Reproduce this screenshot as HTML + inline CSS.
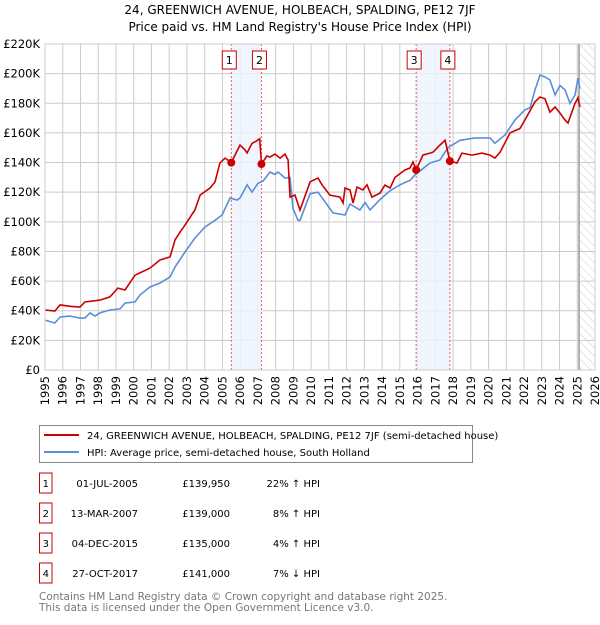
<!DOCTYPE html>
<html><head><meta charset="utf-8"><style>
body{margin:0;background:#fff;font-family:"Liberation Sans","DejaVu Sans",sans-serif;}
svg text{font-family:"DejaVu Sans","Liberation Sans",sans-serif;}
</style></head><body>
<svg id="chart" width="600" height="620" xmlns="http://www.w3.org/2000/svg">
<defs><pattern id="hatch" width="6" height="6" patternUnits="userSpaceOnUse" patternTransform="rotate(-45)"><line x1="0" y1="0" x2="0" y2="6" stroke="#ccc" stroke-width="1"/></pattern></defs>
<text x="300" y="14" text-anchor="middle" font-size="12">24, GREENWICH AVENUE, HOLBEACH, SPALDING, PE12 7JF</text>
<text x="300" y="31" text-anchor="middle" font-size="12">Price paid vs. HM Land Registry's House Price Index (HPI)</text>
<g id="grid"></g><g id="bands"></g><g id="lines"></g><g id="marks"></g><g id="axes"></g>
<g>
<rect x="39.5" y="425.5" width="433" height="37" fill="#fff" stroke="#888"/>
<line x1="44" y1="435" x2="79" y2="435" stroke="#cc0000" stroke-width="2"/>
<text x="87" y="439" font-size="10">24, GREENWICH AVENUE, HOLBEACH, SPALDING, PE12 7JF (semi-detached house)</text>
<line x1="44" y1="452" x2="79" y2="452" stroke="#5b8ed6" stroke-width="2"/>
<text x="87" y="456" font-size="10">HPI: Average price, semi-detached house, South Holland</text>
</g>
<g id="table"></g>
<text x="39" y="600" font-size="10.5" fill="#777">Contains HM Land Registry data © Crown copyright and database right 2025.</text>
<text x="39" y="611" font-size="10.5" fill="#777">This data is licensed under the Open Government Licence v3.0.</text>
</svg>
<script>
const hpiYears=[1995.0,1995.56,1995.85,1996.41,1996.97,1997.25,1997.54,1997.82,1998.1,1998.66,1999.23,1999.51,2000.07,2000.35,2000.92,2001.48,2002.05,2002.33,2002.89,2003.45,2004.02,2004.58,2004.98,2005.43,2005.82,2005.99,2006.39,2006.67,2007.0,2007.29,2007.68,2007.96,2008.13,2008.53,2008.81,2008.98,2009.26,2009.37,2009.94,2010.39,2011.23,2011.91,2012.19,2012.75,2013.04,2013.32,2013.88,2014.45,2015.01,2015.57,2015.85,2016.7,2017.26,2017.71,2018.39,2019.24,2020.08,2020.36,2020.93,2021.49,2022.05,2022.34,2022.62,2022.9,2023.18,2023.46,2023.75,2024.03,2024.31,2024.59,2024.87,2025.04,2025.15];
const hpiValues=[33.7,31.7,35.8,36.4,35,35,38.5,36.4,38.5,40.5,41.2,45.2,45.9,50.6,56,58.7,62.8,69.5,79.6,89,96.5,101,104.6,116,114.7,116,125,120,126,127.5,133.6,132,133.6,129.6,130,109,101,101,119,120,106,104.6,112,108,113,108,115,121,125,128,131.6,139.7,141.7,150,155,156.6,156.6,153,158.6,168.7,175.5,177,189,199,197.7,195.7,185.6,192,189,180,185.6,197,190];
const priceYears=[1995.0,1995.56,1995.85,1996.41,1996.97,1997.25,1998.1,1998.66,1999.11,1999.51,2000.07,2000.35,2000.92,2001.48,2002.05,2002.33,2002.61,2002.89,2003.45,2003.74,2004.3,2004.58,2004.86,2005.15,2005.5,2005.99,2006.27,2006.39,2006.67,2006.84,2007.1,2007.2,2007.5,2007.68,2007.96,2008.25,2008.53,2008.7,2008.81,2009.09,2009.37,2009.94,2010.39,2010.61,2011.06,2011.63,2011.8,2011.91,2012.19,2012.36,2012.59,2012.92,2013.15,2013.43,2013.88,2014.16,2014.45,2014.73,2015.29,2015.57,2015.74,2015.92,2016.3,2016.7,2016.87,2017.26,2017.55,2017.82,2018.22,2018.5,2019.07,2019.63,2020.08,2020.36,2020.65,2021.21,2021.77,2022.05,2022.62,2022.9,2023.18,2023.46,2023.75,2024.03,2024.31,2024.48,2024.87,2025.04,2025.15];
const priceValues=[40.5,39.8,43.9,43,42.5,45.9,47.2,49.3,55.3,54,64,65.5,68.8,74.2,76.3,87.7,93,97.8,108,118,122.8,126.9,139.7,143,140,151.8,148.5,146.5,153,154,156,139,144.4,143.7,145.7,143,145.7,141.7,116.7,118,108,127,129.6,125,118,116.7,112.7,122.8,121.5,112.7,123.5,121.5,125,116.7,119.4,124.8,122.8,130,135,136.3,140.4,135,145,146.4,147,151.8,155,141,139.7,146.4,145,146.4,145,143,147,160,163,168.7,181,184.2,183,174,177.5,173.4,168.7,166.7,180,183.6,177.5];
const saleLabels=["1","2","3","4"];
const saleYears=[2005.5,2007.2,2015.92,2017.82];
const saleValues=[139.95,139,135,141];
const saleDates=["01-JUL-2005","13-MAR-2007","04-DEC-2015","27-OCT-2017"];
const salePrices=["£139,950","£139,000","£135,000","£141,000"];
const saleHpi=["22% ↑ HPI","8% ↑ HPI","4% ↑ HPI","7% ↓ HPI"];
const yTicks=[0,20,40,60,80,100,120,140,160,180,200,220];
const xTicks=[1995,1996,1997,1998,1999,2000,2001,2002,2003,2004,2005,2006,2007,2008,2009,2010,2011,2012,2013,2014,2015,2016,2017,2018,2019,2020,2021,2022,2023,2024,2025,2026];
const NS="http://www.w3.org/2000/svg";
const X0=45,X1=595,Y0=370,Y1=44;
const xs=y=>X0+(y-1995)/31*(X1-X0);
const ys=v=>Y0-v/220*(Y0-Y1);
function mk(tag,at,parent){const e=document.createElementNS(NS,tag);for(const k in at)e.setAttribute(k,at[k]);document.getElementById(parent).appendChild(e);return e;}
let h=mk('rect',{x:xs(2025.1),y:Y1,width:X1-xs(2025.1),height:Y0-Y1,fill:'url(#hatch)'},'grid');


yTicks.forEach(t=>{let l=mk('line',{x1:X0,x2:X1,y1:ys(t),y2:ys(t),stroke:'#ccc'},'grid');


let tx=mk('text',{x:40,y:ys(t)+4,'text-anchor':'end','font-size':'11.5'},'axes');tx.textContent='£'+(t===0?'0':t+'K');

});
xTicks.forEach(t=>{let l=mk('line',{x1:xs(t),x2:xs(t),y1:Y1,y2:Y0,stroke:'#ccc'},'grid');


let tx=mk('text',{x:0,y:0,'font-size':'11.5','text-anchor':'end',transform:`translate(${xs(t)+4},${Y0+6}) rotate(-90)`},'axes');tx.textContent=t;

});
let vl=mk('line',{x1:xs(2025.1),x2:xs(2025.1),y1:Y1,y2:Y0,stroke:'#999','stroke-width':1.5},'grid');


[[0,1],[2,3]].forEach(p=>{let b=mk('rect',{x:xs(saleYears[p[0]]),y:Y1,width:xs(saleYears[p[1]])-xs(saleYears[p[0]]),height:Y0-Y1,fill:'#eef3fc',opacity:0.8},'bands');

});
saleYears.forEach((y,i)=>{let l=mk('line',{x1:xs(y),x2:xs(y),y1:Y1,y2:Y0,stroke:'#e06060','stroke-dasharray':'2,2'},'bands');


let r=mk('rect',{x:xs(y)-9,y:51,width:14,height:18,fill:'#fff',stroke:'#cc0000'},'marks');


let t=mk('text',{x:xs(y)-2,y:64,'text-anchor':'middle','font-size':'11'},'marks');t.textContent=saleLabels[i];


let c=mk('circle',{cx:xs(y),cy:ys(saleValues[i]),r:4,fill:'#cc0000'},'marks');

});
function path(xa,va,col,name){let d=xa.map((x,i)=>(i?'L':'M')+xs(x).toFixed(1)+','+ys(va[i]).toFixed(1)).join('');
let p=mk('path',{d:d,fill:'none',stroke:col,'stroke-width':1.6},'lines');

}
path(hpiYears,hpiValues,'#5b8ed6','hpi-line');
path(priceYears,priceValues,'#cc0000','price-line');
let fr=mk('rect',{x:X0,y:Y1,width:X1-X0,height:Y0-Y1,fill:'none',stroke:'#ccc'},'axes');


saleLabels.forEach((s,i)=>{const cy=483+i*30;
let b=mk('rect',{x:39.5,y:cy-10,width:12.5,height:20,fill:'#fff',stroke:'#cc0000'},'table');


const cells=[[45.8,'middle',s],[138,'end',saleDates[i]],[230,'end',salePrices[i]],[320,'end',saleHpi[i]]];
cells.forEach(c=>{let t=mk('text',{x:c[0],y:cy+4,'text-anchor':c[1],'font-size':'10'},'table');t.textContent=c[2];

});});
</script>
</body></html>
